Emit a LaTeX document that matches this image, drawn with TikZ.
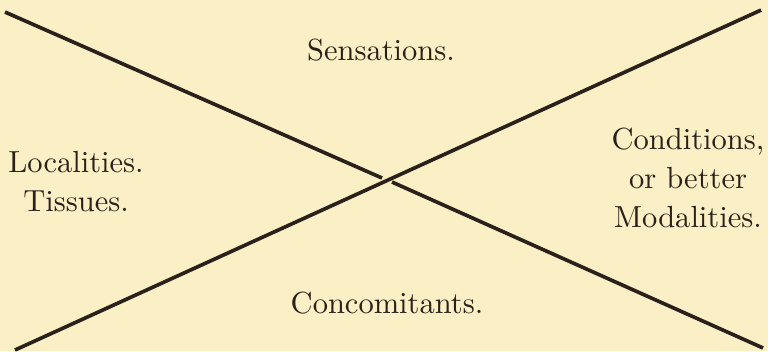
\documentclass[tikz,border=0pt]{standalone}
\definecolor{paper}{RGB}{251,239,197}
\definecolor{ink}{RGB}{42,34,26}
\begin{document}
\begin{tikzpicture}[font=\fontsize{10}{12.8}\selectfont,
  bar/.style={draw=ink, line width=1.2pt},
  lbl/.style={text=ink, inner sep=0pt, align=center}]
  % paper
  \fill[paper] (0,0) rectangle (8.847,4.044);
  % ends of the two strokes
  \coordinate (tl) at (0.058,3.905);
  \coordinate (gapl) at (4.401,1.993);
  \coordinate (gapr) at (4.516,1.947);
  \coordinate (br) at (8.790,0.035);
  \coordinate (bl) at (0.173,0.012);
  \coordinate (tr) at (8.767,3.928);
  % the cross, falling stroke broken where it passes under
  \draw[bar] (bl) -- (tr);
  \draw[bar] (tl) -- (gapl);
  \draw[bar] (gapr) -- (br);
  % labels
  \node[lbl, anchor=base] (sens) at (4.389,3.352) {Sensations.};
  \node[lbl, anchor=base] (conc) at (4.458,0.438) {Concomitants.};
  \node[lbl] (loc)  at (0.876,1.947) {Localities.\\Tissues.};
  \node[lbl] (cond) at (7.926,1.993) {Conditions,\\or better\\Modalities.};
\end{tikzpicture}
\end{document}
